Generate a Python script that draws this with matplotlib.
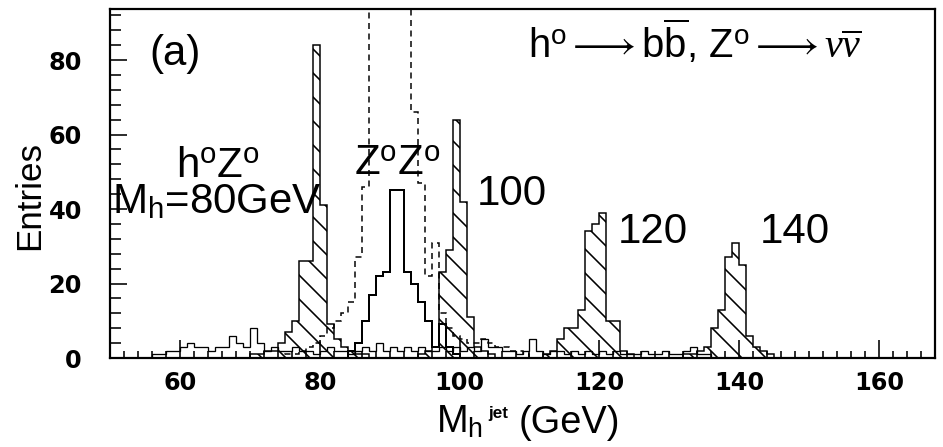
import numpy as np
import matplotlib
matplotlib.use("Agg")
import matplotlib.pyplot as plt

plt.rcParams['font.family'] = ['Liberation Sans', 'DejaVu Sans']
plt.rcParams['mathtext.fontset'] = 'custom'
plt.rcParams['mathtext.rm'] = 'Liberation Sans'
plt.rcParams['mathtext.it'] = 'Liberation Serif:italic'
plt.rcParams['mathtext.bf'] = 'Liberation Sans:bold'
plt.rcParams['mathtext.fallback'] = 'stix'
plt.rcParams['hatch.linewidth'] = 1.6

# ---------------- data (entries per 1 GeV bin) ----------------
bin_lo, bin_hi = 50, 168

# h0 Z0 signal, hatched, for Mh = 80, 100, 120, 140 GeV
h80_start = 70
h80 = [1, 1, 2, 2, 4, 7, 10, 26, 26, 84, 41, 9, 5, 3, 2, 1, 1]
h100_start = 94
h100 = [1, 2, 3, 23, 29, 64, 42, 11, 3, 2, 1]
h120_start = 112
h120 = [1, 2, 5, 8, 8, 13, 34, 36, 39, 10, 10, 2, 1]
h140_start = 132
h140 = [1, 1, 2, 3, 8, 13, 27, 31, 25, 6, 3, 2, 1]

# Z0 Z0 background after cuts (solid)
zz_start = 84
zz = [2, 4, 10, 17, 22, 23, 45, 45, 23, 20, 15, 10, 3, 9, 3, 1]

# Z0 Z0 background before cuts (dashed, peak runs off scale)
zz_all_start = 75
zz_all = [1, 1, 2, 3, 4, 6, 8, 10, 12, 15, 27, 46, 110, 150, 180, 180, 150,
          110, 66, 47, 22, 31, 12, 8, 6, 5, 4, 4, 5, 4, 3, 3, 2, 2, 1]

# other small backgrounds (solid)
bkg_start = 56
bkg = [1, 1, 2, 2, 3, 4, 3, 3, 2, 3, 3, 6, 4, 3, 8, 4, 2, 3, 2, 2,
       3, 2, 2, 1, 2, 3, 2, 2, 1, 2, 3, 2, 4, 2, 3, 2, 3, 2, 3, 2,
       2, 3, 2, 3, 2, 3, 2, 5, 3, 3, 2, 2, 1, 2, 5, 2, 1, 2, 2, 1,
       2, 1, 2, 1, 2, 1, 2, 1, 1, 1, 2, 1, 1, 2, 1, 1, 2, 3, 1, 1]

peak_labels = ["100", "120", "140"]
x_ticks = [60, 80, 100, 120, 140, 160]
y_ticks = [0, 20, 40, 60, 80]


def full(start, vals):
    arr = np.zeros(bin_hi - bin_lo)
    arr[start - bin_lo:start - bin_lo + len(vals)] = vals
    return arr


edges = np.arange(bin_lo, bin_hi + 1)

W, H, DPI = 943, 447, 72
fig = plt.figure(figsize=(W / DPI, H / DPI), dpi=DPI)
ax = fig.add_axes([110 / W, 1 - 358 / H, 825 / W, 349 / H])

ax.stairs(full(bkg_start, bkg), edges, color='black', lw=1.3)
ax.stairs(full(zz_all_start, zz_all), edges, color='black', lw=1.5,
          linestyle=(0, (4, 3)))
ax.stairs(full(zz_start, zz), edges, color='black', lw=2.0)
for start, vals in [(h80_start, h80), (h100_start, h100),
                    (h120_start, h120), (h140_start, h140)]:
    ax.stairs(full(start, vals), edges, fill=True, facecolor='none',
              edgecolor='black', hatch='\\', lw=1.5)

ax.set_xlim(50, 168)
ax.set_ylim(0, 93.7)
ax.set_xticks(x_ticks)
ax.set_yticks(y_ticks)
ax.set_xticks(np.arange(50, 169, 2), minor=True)
ax.set_yticks(np.arange(0, 94, 4), minor=True)
ax.tick_params(axis='both', which='both', direction='in', width=1.6,
               top=False, right=False)
ax.tick_params(axis='y', which='major', length=17, pad=28)
ax.tick_params(axis='y', which='minor', length=11)
ax.tick_params(axis='x', which='major', length=18, pad=13)
ax.tick_params(axis='x', which='minor', length=7)
for lab in ax.get_xticklabels() + ax.get_yticklabels():
    lab.set_fontfamily('DejaVu Sans')
    lab.set_fontweight('bold')
    lab.set_fontsize(24)
for s in ax.spines.values():
    s.set_linewidth(2.2)

ax.set_ylabel("Entries", fontsize=35)
ax.yaxis.set_label_coords(-0.078, 0.467)

# x label: M_h with a small "jet" superscript, then (GeV)
ax.set_xlabel(r"M$_{\rm h}$", fontsize=38)
ax.xaxis.set_label_coords((436 - 110) / 825, -0.215)
ax.xaxis.label.set_ha('left')
ax.xaxis.label.set_va('baseline')
ax.text((488 - 110) / 825, -0.172, "jet", fontsize=17, fontweight='bold',
        ha='left', va='baseline', transform=ax.transAxes)
ax.text((519 - 110) / 825, -0.215, "(GeV)", fontsize=38,
        ha='left', va='baseline', transform=ax.transAxes)

big = 42
ax.text(59.3, 78.7, "(a)", fontsize=big, ha='center', va='baseline')
ax.text(65.5, 48.6, r"h$^{\rm o}$Z$^{\rm o}$", fontsize=big, ha='center', va='baseline')
ax.text(50.3, 38.9, r"M$_{\rm h}$=80GeV", fontsize=big, ha='left', va='baseline')
ax.text(91.1, 49.1, r"Z$^{\rm o}$Z$^{\rm o}$", fontsize=big, ha='center', va='baseline')
for (gx, gy), lab in zip([(107.5, 41.0), (127.7, 30.9), (147.9, 30.9)], peak_labels):
    ax.text(gx, gy, lab, fontsize=big, ha='center', va='baseline')
ax.text(0.709, 0.86,
        r"h$^{\rm o}$$\longrightarrow$b$\overline{\rm b}$, Z$^{\rm o}$$\longrightarrow$$\nu\overline{\nu}$",
        fontsize=40, ha='center', va='baseline', transform=ax.transAxes)

fig.savefig("out.png", dpi=DPI)
